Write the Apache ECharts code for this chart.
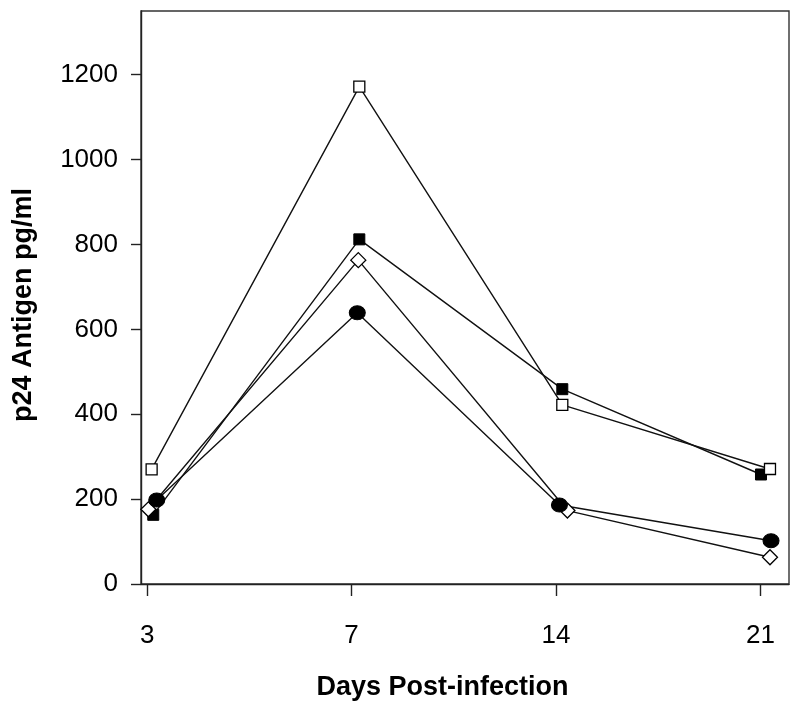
<!DOCTYPE html>
<html>
<head>
<meta charset="utf-8">
<script src="https://cdn.jsdelivr.net/npm/echarts@6/dist/echarts.min.js"></script>
<style>
html,body{margin:0;padding:0;background:#fff;}
#chart{width:800px;height:715px;}
</style>
</head>
<body>
<div id="chart"></div>
<script>
// Tick labels for the x axis (days post-infection), evenly spaced time points
var dayLabels = ['3', '7', '14', '21'];
var dayTickPositions = [0, 1, 2, 3];
var yTickValues = [0, 200, 400, 600, 800, 1000, 1200];

// Plotted x positions (time-point index; points are slightly staggered)
var filledSquareX = [0.030, 1.038, 2.031, 3.003];
var openDiamondX  = [0.006, 1.033, 2.056, 3.047];
var filledCircleX = [0.047, 1.028, 2.017, 3.052];
var openSquareX   = [0.022, 1.038, 2.031, 3.047];

// p24 antigen values (pg/ml)
var filledSquareY = [163, 812, 459, 258];
var openDiamondY  = [176, 763, 173, 63];
var filledCircleY = [198, 639, 186, 102];
var openSquareY   = [270, 1172, 422, 271];

function pairs(xs, ys) {
  return xs.map(function (x, i) { return [x, ys[i]]; });
}

var FONT = '"Liberation Sans", Arial, Helvetica, sans-serif';
var lineStyle = { color: '#111', width: 1.4 };

var chart = echarts.init(document.getElementById('chart'), null, { renderer: 'canvas' });
chart.setOption({
  animation: false,
  backgroundColor: '#fff',
  grid: {
    left: 141, top: 11, right: 11, bottom: 131,
    show: true, borderColor: '#333', borderWidth: 1.4, backgroundColor: 'transparent'
  },
  xAxis: {
    type: 'value',
    min: -0.03, max: 3.14,
    name: 'Days Post-infection',
    nameLocation: 'middle',
    nameGap: 90,
    nameTextStyle: { fontFamily: FONT, fontSize: 27, fontWeight: 'bold', color: '#000', padding: [0, 45, 0, 0] },
    axisLine: { show: true, onZero: false, lineStyle: { color: '#222', width: 1.4 } },
    axisTick: { show: true, length: 12, inside: false, customValues: dayTickPositions, lineStyle: { color: '#222', width: 1.4 } },
    axisLabel: {
      customValues: dayTickPositions,
      margin: 39,
      fontFamily: FONT, fontSize: 26, color: '#000',
      formatter: function (v) { return dayLabels[Math.round(v)]; }
    },
    splitLine: { show: false }
  },
  yAxis: {
    type: 'value',
    min: 0, max: 1350,
    name: 'p24 Antigen pg/ml',
    nameLocation: 'middle',
    nameGap: 104,
    nameTextStyle: { fontFamily: FONT, fontSize: 27, fontWeight: 'bold', color: '#000', padding: [0, 15, 0, 0] },
    axisLine: { show: true, onZero: false, lineStyle: { color: '#222', width: 1.4 } },
    axisTick: { show: true, length: 10, inside: false, customValues: yTickValues, lineStyle: { color: '#222', width: 1.4 } },
    axisLabel: {
      customValues: yTickValues,
      margin: 23,
      fontFamily: FONT, fontSize: 26, color: '#000',
      formatter: function (v) { return String(v); }
    },
    splitLine: { show: false }
  },
  series: [
    {
      name: 'filled square', type: 'line', data: pairs(filledSquareX, filledSquareY),
      symbol: 'rect', symbolSize: 11, showAllSymbol: true,
      lineStyle: lineStyle,
      itemStyle: { color: '#000', borderColor: '#000', borderWidth: 1 }
    },
    {
      name: 'open diamond', type: 'line', data: pairs(openDiamondX, openDiamondY),
      symbol: 'diamond', symbolSize: 15, showAllSymbol: true,
      lineStyle: lineStyle,
      itemStyle: { color: '#fff', borderColor: '#000', borderWidth: 1.3 }
    },
    {
      name: 'filled circle', type: 'line', data: pairs(filledCircleX, filledCircleY),
      symbol: 'circle', symbolSize: [16, 14], showAllSymbol: true,
      lineStyle: lineStyle,
      itemStyle: { color: '#000', borderColor: '#000', borderWidth: 1 }
    },
    {
      name: 'open square', type: 'line', data: pairs(openSquareX, openSquareY),
      symbol: 'rect', symbolSize: 11, showAllSymbol: true,
      lineStyle: lineStyle,
      itemStyle: { color: '#fff', borderColor: '#000', borderWidth: 1.3 }
    }
  ]
});
</script>
</body>
</html>
